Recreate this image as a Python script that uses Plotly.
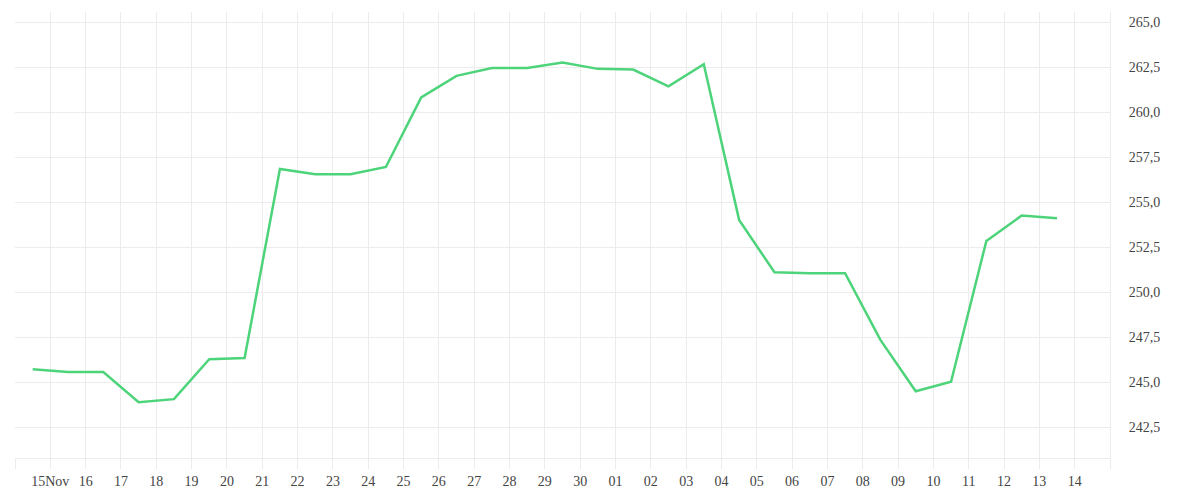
import pandas as pd
import plotly.graph_objects as go

# daily closing values, one per day (plotted at mid-day)
dates = pd.date_range("2023-11-14 12:00", "2023-12-13 12:00", freq="D")
values = [
    245.72, 245.57, 245.57, 243.89, 244.06, 246.28, 246.35, 256.85, 256.56, 256.56,
    256.96, 260.83, 262.02, 262.46, 262.46, 262.76, 262.41, 262.37, 261.44, 262.67,
    254.02, 251.11, 251.06, 251.06, 247.35, 244.50, 245.03, 252.85, 254.26, 254.11,
]

tick_dates = pd.date_range("2023-11-14", "2023-12-15", freq="D")
tick_labels = (
    [""]
    + ["15Nov"] + [str(d) for d in range(16, 31)]
    + ["%02d" % d for d in range(1, 15)]
    + [""]
)

GRID = "#ececec"
LINE_COLOR = "#4dd47a"

fig = go.Figure()
fig.add_trace(
    go.Scatter(
        x=dates,
        y=values,
        mode="lines",
        line={"color": LINE_COLOR, "width": 2.5},
        hoverinfo="x+y",
    )
)

fig.update_layout(
    width=1200,
    height=500,
    showlegend=False,
    plot_bgcolor="white",
    paper_bgcolor="white",
    separators=",.",
    font={"family": "Liberation Serif", "size": 14, "color": "#444444"},
    margin={"l": 7, "r": 98, "t": 4, "b": 50},
    xaxis={
        "range": ["2023-11-14", "2023-12-15"],
        "tickmode": "array",
        "tickvals": tick_dates,
        "ticktext": tick_labels,
        "showgrid": True,
        "gridcolor": GRID,
        "gridwidth": 1,
        "ticks": "outside",
        "ticklen": 10,
        "tickcolor": GRID,
        "showline": True,
        "linecolor": GRID,
        "zeroline": False,
    },
    yaxis={
        "side": "right",
        "range": [240.79, 265.57],
        "tickmode": "array",
        "tickvals": [242.5, 245, 247.5, 250, 252.5, 255, 257.5, 260, 262.5, 265],
        "tickformat": ".1f",
        "showgrid": True,
        "gridcolor": GRID,
        "showline": True,
        "linecolor": GRID,
        "ticks": "",
        "ticklabelstandoff": 15,
        "zeroline": False,
    },
)

fig.write_html("out.html")
